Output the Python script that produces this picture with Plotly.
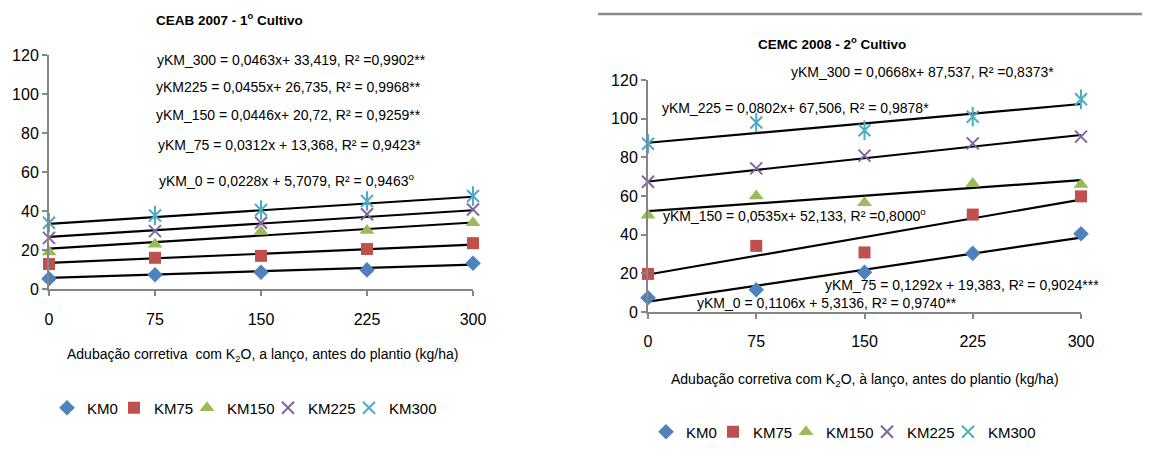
import plotly.graph_objects as go

# ---------------- data ----------------
doses = [0, 75, 150, 225, 300]
series_names = ["KM0", "KM75", "KM150", "KM225", "KM300"]

# CEAB 2007 - 1º Cultivo
left_km0 = [5.3, 7.3, 8.6, 9.8, 13.2]
left_km75 = [12.8, 16.0, 17.0, 20.5, 23.5]
left_km150 = [19.0, 23.0, 29.5, 30.0, 34.0]
left_km225 = [26.2, 29.7, 34.0, 38.3, 40.8]
left_km300 = [34.0, 37.7, 40.5, 45.1, 47.7]
left_slopes = [0.0228, 0.0312, 0.0446, 0.0455, 0.0463]
left_intercepts = [5.7079, 13.368, 20.72, 26.735, 33.419]
left_equations = [
    "yKM_0 = 0,0228x + 5,7079, R² = 0,9463<sup>o</sup>",
    "yKM_75 = 0,0312x + 13,368, R² = 0,9423*",
    "yKM_150 = 0,0446x+ 20,72, R² = 0,9259**",
    "yKM225 = 0,0455x+ 26,735, R² = 0,9968**",
    "yKM_300 = 0,0463x+ 33,419, R² =0,9902**",
]

# CEMC 2008 - 2º Cultivo
right_km0 = [7.4, 11.5, 20.5, 30.3, 40.5]
right_km75 = [19.7, 34.2, 30.8, 50.4, 59.8]
right_km150 = [50.0, 60.0, 56.5, 66.5, 66.0]
right_km225 = [67.4, 74.3, 80.9, 87.2, 90.7]
right_km300 = [87.0, 98.0, 94.0, 101.0, 110.0]
right_slopes = [0.1106, 0.1292, 0.0535, 0.0802, 0.0668]
right_intercepts = [5.3136, 19.383, 52.133, 67.506, 87.537]
right_equations = [
    "yKM_0 = 0,1106x + 5,3136, R² = 0,9740**",
    "yKM_75 = 0,1292x + 19,383, R² = 0,9024***",
    "yKM_150 = 0,0535x+ 52,133, R² =0,8000<sup>o</sup>",
    "yKM_225 = 0,0802x+ 67,506, R² = 0,9878*",
    "yKM_300 = 0,0668x+ 87,537, R² =0,8373*",
]

y_ticks = [0, 20, 40, 60, 80, 100, 120]

# ---------------- styles ----------------
W, H = 1150, 457
OFF = 8  # page body margin offset
FONT = "Liberation Sans"
colors = ["#4F81BD", "#C0504D", "#9BBB59", "#8064A2", "#4BACC6"]
symbols = ["diamond", "square", "triangle-up", "x-thin", "x-thin"]
sizes = [12, 12, 13, 12, 12]
legend_widths = [22, 28, 36, 36, 55]
AX = "#868686"


def px(x):
    return (x - OFF) / W


def py(y):
    return 1 - (y - OFF) / H


fig = go.Figure()

panels = [
    dict(xa="x", ya="y", legend="legend",
         data=[left_km0, left_km75, left_km150, left_km225, left_km300],
         slopes=left_slopes, inter=left_intercepts),
    dict(xa="x2", ya="y2", legend="legend2",
         data=[right_km0, right_km75, right_km150, right_km225, right_km300],
         slopes=right_slopes, inter=right_intercepts),
]

for p in panels:
    # trend lines
    for s, b in zip(p["slopes"], p["inter"]):
        xs = [doses[0], doses[-1]]
        fig.add_trace(go.Scatter(
            x=xs, y=[s * v + b for v in xs], mode="lines",
            line=dict(color="black", width=2.2),
            xaxis=p["xa"], yaxis=p["ya"], showlegend=False, hoverinfo="skip"))
    # markers
    for name, vals, c, sym, sz, lw in zip(series_names, p["data"], colors, symbols,
                                          sizes, legend_widths):
        thin = sym.endswith("thin")
        fig.add_trace(go.Scatter(
            x=doses, y=vals, mode="markers", name=name,
            marker=dict(symbol=sym, size=sz, color=c,
                        line=dict(color=c, width=2 if thin else 0)),
            xaxis=p["xa"], yaxis=p["ya"], legend=p["legend"], legendwidth=lw,
            cliponaxis=False))
        if name == "KM300":
            fig.add_trace(go.Scatter(
                x=doses, y=vals, mode="markers", showlegend=False,
                marker=dict(symbol="line-ns", size=sz + 2, color=c,
                            line=dict(color=c, width=2)),
                xaxis=p["xa"], yaxis=p["ya"], cliponaxis=False))

axis_common = dict(
    showgrid=False, zeroline=False, showline=True, linecolor=AX, linewidth=2,
    ticks="outside", tickcolor=AX, ticklen=5, tickwidth=1.5,
    tickfont=dict(family=FONT, size=16, color="black"),
)

fig.update_layout(
    width=W, height=H, margin=dict(l=0, r=0, t=0, b=0, autoexpand=False),
    paper_bgcolor="white", plot_bgcolor="white",
    font=dict(family=FONT, color="black"),
    xaxis=dict(domain=[px(49), px(473)], range=[0, 300], tickvals=doses,
               anchor="y", ticklabelstandoff=10, **axis_common),
    yaxis=dict(domain=[py(289), py(55)], range=[0, 120], tickvals=y_ticks,
               anchor="x", **axis_common),
    xaxis2=dict(domain=[px(648), px(1081)], range=[0, 300], tickvals=doses,
                anchor="y2", ticklabelstandoff=9, **axis_common),
    yaxis2=dict(domain=[py(312), py(80)], range=[0, 120], tickvals=y_ticks,
                anchor="x2", **axis_common),
    legend=dict(orientation="h", x=px(47), xanchor="left", y=py(408), yanchor="middle",
                font=dict(family=FONT, size=15), bgcolor="rgba(0,0,0,0)", itemclick=False),
    legend2=dict(orientation="h", x=px(646), xanchor="left", y=py(432), yanchor="middle",
                 font=dict(family=FONT, size=15), bgcolor="rgba(0,0,0,0)", itemclick=False),
    showlegend=True,
)

ann = []
# titles
ann.append(dict(text="<b>CEAB 2007 - 1<sup>o</sup> Cultivo</b>", x=px(229), y=py(19),
                font=dict(size=13.5)))
ann.append(dict(text="<b>CEMC 2008 - 2<sup>o</sup> Cultivo</b>", x=px(832), y=py(43),
                font=dict(size=13.5)))
# axis titles
ann.append(dict(text="Adubação corretiva  com K<sub>2</sub>O, a lanço, antes do plantio (kg/ha)",
                x=px(262), y=py(355), font=dict(size=14)))
ann.append(dict(text="Adubação corretiva com K<sub>2</sub>O, à lanço, antes do plantio (kg/ha)",
                x=px(865), y=py(380), font=dict(size=14)))
# equations
left_eq_pos = [(286, 180), (289, 145), (288, 115), (288, 87), (291, 60)]
for t, (x, y) in zip(left_equations, left_eq_pos):
    ann.append(dict(text=t, x=px(x), y=py(y), font=dict(size=14)))
right_eq_pos = [(827, 303, "center"), (823, 285, "left"), (794, 215, "center"),
                (795, 108, "center"), (922, 72, "center")]
for t, (x, y, a) in zip(right_equations, right_eq_pos):
    ann.append(dict(text=t, x=px(x), y=py(y), xanchor=a, font=dict(size=14)))

for a in ann:
    a.setdefault("xanchor", "center")
    a.update(xref="paper", yref="paper", yanchor="middle", showarrow=False)
    a["font"] = dict(family=FONT, color="black", size=a["font"]["size"])
fig.update_layout(annotations=ann)

# frame line at top of the right panel
fig.add_shape(type="line", xref="paper", yref="paper",
              x0=px(598), x1=1, y0=py(14), y1=py(14),
              line=dict(color="#8c8c8c", width=2.5))

fig.write_html("out.html")
